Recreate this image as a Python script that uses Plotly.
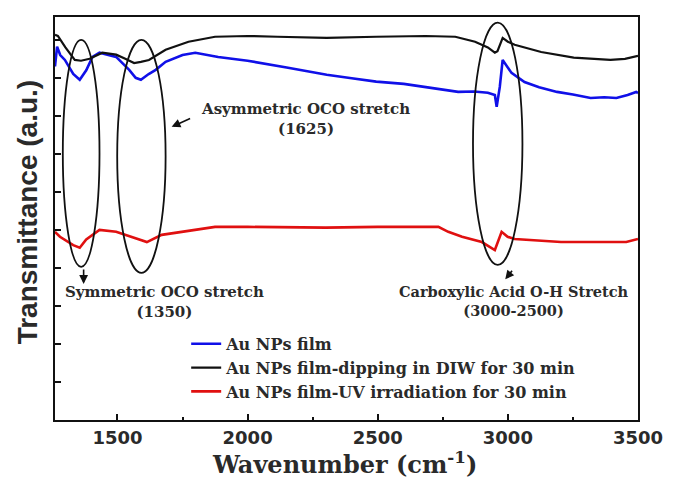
import plotly.graph_objects as go

# ---- data (y in arbitrary transmittance units) ----
black_wn = [1260, 1271, 1300, 1336, 1360, 1393, 1442, 1495, 1530, 1564, 1590, 1621, 1685, 1773, 1875,
            2000, 2114, 2304, 2494, 2684, 2798, 2874, 2923, 2950, 2960, 2980, 3000, 3026, 3128, 3253,
            3394, 3450, 3500]
black_t = [10.13, 10.10, 9.80, 9.47, 9.45, 9.50, 9.66, 9.61, 9.50, 9.39, 9.42, 9.47, 9.74, 9.95, 10.08,
           10.10, 10.08, 10.05, 10.08, 10.10, 10.08, 9.95, 9.80, 9.66, 9.70, 10.05, 9.95, 9.87, 9.68, 9.53,
           9.47, 9.50, 9.58]

blue_wn = [1260, 1268, 1280, 1298, 1330, 1355, 1380, 1404, 1431, 1495, 1545, 1570, 1590, 1620, 1647,
           1685, 1750, 1799, 1887, 2000, 2150, 2304, 2400, 2494, 2600, 2684, 2750, 2809, 2870, 2923,
           2950, 2957, 2969, 2980, 3014, 3064, 3120, 3189, 3250, 3318, 3370, 3417, 3460, 3493, 3500]
blue_t = [9.30, 9.82, 9.60, 9.47, 9.10, 8.95, 9.20, 9.55, 9.66, 9.55, 9.21, 9.00, 8.95, 9.10, 9.21,
          9.42, 9.60, 9.66, 9.55, 9.45, 9.27, 9.08, 8.99, 8.90, 8.84, 8.76, 8.70, 8.63, 8.64, 8.61,
          8.55, 8.24, 8.76, 9.47, 9.13, 8.89, 8.75, 8.63, 8.56, 8.47, 8.49, 8.47, 8.55, 8.63, 8.60]

red_wn = [1260, 1279, 1330, 1355, 1380, 1404, 1431, 1495, 1556, 1613, 1670, 1746, 1875, 2000, 2300,
          2500, 2733, 2771, 2824, 2900, 2950, 2976, 2999, 3026, 3204, 3455, 3500]
red_t = [4.95, 4.82, 4.60, 4.53, 4.75, 4.87, 5.00, 4.95, 4.82, 4.68, 4.87, 4.95, 5.08, 5.08, 5.06,
         5.08, 5.08, 4.95, 4.82, 4.68, 4.47, 4.95, 4.82, 4.76, 4.68, 4.68, 4.76]

series_names = ["Au NPs film",
                "Au NPs film-dipping in DIW for 30 min",
                "Au NPs film-UV irradiation for 30 min"]

x_ticks = [1500, 2000, 2500, 3000, 3500]

# highlighted band ellipses (wavenumber span, transmittance span)
ellipses = [((1290, 1431), (4.03, 10.0)),
            ((1499, 1685), (3.87, 10.0)),
            ((2866, 3056), (4.08, 10.45))]

SERIF = "DejaVu Serif"
SANS = "DejaVu Sans"
TXT = "#2a2a2a"

fig = go.Figure()
fig.add_trace(go.Scatter(x=blue_wn, y=blue_t, mode="lines", name=series_names[0],
                         line=dict(color="#1010e8", width=2.6)))
fig.add_trace(go.Scatter(x=black_wn, y=black_t, mode="lines", name=series_names[1],
                         line=dict(color="#111111", width=2.2)))
fig.add_trace(go.Scatter(x=red_wn, y=red_t, mode="lines", name=series_names[2],
                         line=dict(color="#e01010", width=2.6)))

for (x0, x1), (y0, y1) in ellipses:
    fig.add_shape(type="circle", xref="x", yref="y", x0=x0, x1=x1, y0=y0, y1=y1,
                  line=dict(color="#111111", width=1.8))

ann_font = dict(family=SERIF, size=15, color=TXT, weight="bold")

# labels
fig.add_annotation(x=2221, y=7.92, text="Asymmetric OCO stretch<br>(1625)", showarrow=False,
                   font=ann_font, align="center")
fig.add_annotation(x=1681, y=3.11, text="Symmetric OCO stretch<br>(1350)", showarrow=False,
                   font=ann_font, align="center")
fig.add_annotation(x=3022, y=3.13, text="Carboxylic Acid O-H Stretch<br>(3000-2500)", showarrow=False,
                   font=dict(family=SERIF, size=14.5, color=TXT, weight="bold"), align="center")

# arrows
arrow = dict(showarrow=True, arrowhead=2, arrowsize=1.1, arrowwidth=1.6, arrowcolor="#111111", text="")
fig.add_annotation(x=1708, y=7.71, ax=20, ay=-9, **arrow)
fig.add_annotation(x=1370, y=3.58, ax=0, ay=-16, **arrow)
fig.add_annotation(x=2990, y=3.7, ax=8, ay=-10, **arrow)

# axis titles
fig.add_annotation(xref="paper", yref="paper", x=0.497, y=-0.107, xanchor="center", yanchor="middle",
                   showarrow=False, text="Wavenumber (cm<sup>-1</sup>)",
                   font=dict(family=SERIF, size=24, color=TXT, weight="bold"))
fig.add_annotation(xref="paper", yref="paper", x=-0.0475, y=0.516, xanchor="center", yanchor="middle",
                   showarrow=False, textangle=-90, text="Transmittance (a.u.)",
                   font=dict(family="Liberation Sans", size=28, color=TXT, weight="bold"))

fig.update_layout(
    width=675, height=482,
    margin=dict(l=55, r=30, t=17, b=62),
    paper_bgcolor="white", plot_bgcolor="white",
    showlegend=True,
    legend=dict(x=0.225, y=0.231, xanchor="left", yanchor="top",
                bgcolor="rgba(0,0,0,0)", borderwidth=0, tracegroupgap=0,
                font=dict(family=SERIF, size=16, color=TXT, weight="bold")),
)
fig.update_xaxes(range=[1260, 3500], tickvals=x_ticks, ticktext=[str(v) for v in x_ticks],
                 ticks="inside", ticklen=6, tickwidth=2, tickcolor="#111111",
                 minor=dict(tickvals=[1750, 2250, 2750, 3250], ticks="inside", ticklen=3,
                            tickwidth=2, tickcolor="#111111"),
                 showline=True, linecolor="#111111", linewidth=2, mirror=True,
                 showgrid=False, zeroline=False,
                 tickfont=dict(family=SANS, size=18, color=TXT, weight="bold"))
fig.update_yaxes(range=[0, 10.6], dtick=1, tick0=0, showticklabels=False,
                 ticks="inside", ticklen=6, tickwidth=1.5, tickcolor="#111111",
                 showline=True, linecolor="#111111", linewidth=2, mirror=True,
                 showgrid=False, zeroline=False)

fig.write_html("out.html")
